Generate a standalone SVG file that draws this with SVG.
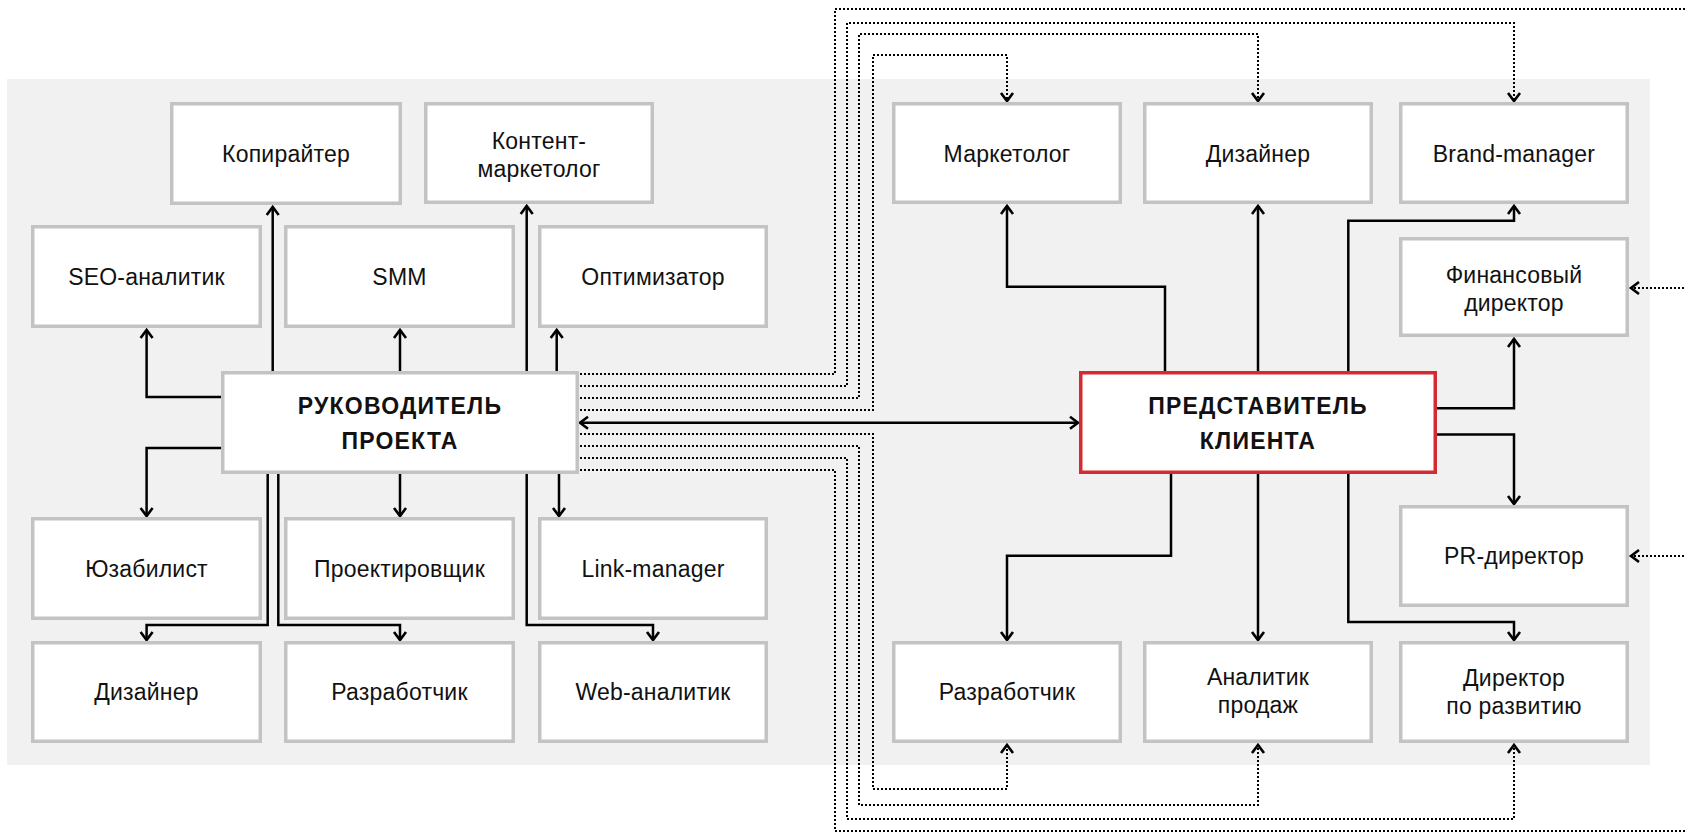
<svg xmlns="http://www.w3.org/2000/svg" width="1685" height="832" viewBox="0 0 1685 832">
<style>
.bx{fill:#fff;stroke:#c3c3c3;stroke-width:3.5}
.main{fill:#fff;stroke:#c3c3c3;stroke-width:3.5}
.cl{fill:#fff;stroke:#d42a32;stroke-width:3.5}
.t{font-family:"Liberation Sans",Arial,sans-serif;font-size:23px;fill:#111;text-anchor:middle;letter-spacing:0.2px}
.tb{font-family:"Liberation Sans",Arial,sans-serif;font-size:23px;font-weight:bold;fill:#111;text-anchor:middle;letter-spacing:1.2px}
.c{fill:none;stroke:#000;stroke-width:2.5}
.d{fill:none;stroke:#000;stroke-width:2;stroke-dasharray:2 2}
</style>
<defs>
<marker id="ah" viewBox="-10 -10 20 20" markerWidth="20" markerHeight="20" refX="0" refY="0" orient="auto-start-reverse" markerUnits="userSpaceOnUse">
<path d="M-8,-6 L0,0 L-8,6" fill="none" stroke="#000" stroke-width="2.6"/>
</marker>
</defs>
<rect x="7" y="79" width="1643" height="686" fill="#f1f1f1"/>
<g id="connectors">
<path class="c" d="M221,397 H146.6 V330" marker-end="url(#ah)"/>
<path class="c" d="M221,448 H146.6 V516" marker-end="url(#ah)"/>
<path class="c" d="M272.7,371 V207" marker-end="url(#ah)"/>
<path class="c" d="M400,371 V330" marker-end="url(#ah)"/>
<path class="c" d="M526.7,371 V206" marker-end="url(#ah)"/>
<path class="c" d="M556.7,371 V330" marker-end="url(#ah)"/>
<path class="c" d="M267.7,474 V625 H146.6 V640" marker-end="url(#ah)"/>
<path class="c" d="M278.3,474 V625 H400 V640" marker-end="url(#ah)"/>
<path class="c" d="M400,474 V516" marker-end="url(#ah)"/>
<path class="c" d="M526.7,474 V625 H653 V640" marker-end="url(#ah)"/>
<path class="c" d="M559,474 V516" marker-end="url(#ah)"/>
<path class="c" d="M580,422.7 H1078" marker-start="url(#ah)" marker-end="url(#ah)"/>
<path class="c" d="M1165,371 V286.7 H1007 V206" marker-end="url(#ah)"/>
<path class="c" d="M1258,371 V206" marker-end="url(#ah)"/>
<path class="c" d="M1348.3,371 V220.7 H1514 V206" marker-end="url(#ah)"/>
<path class="c" d="M1437,408.3 H1514 V339" marker-end="url(#ah)"/>
<path class="c" d="M1437,434.5 H1514 V504" marker-end="url(#ah)"/>
<path class="c" d="M1171,474 V555.7 H1007 V640" marker-end="url(#ah)"/>
<path class="c" d="M1258,474 V640" marker-end="url(#ah)"/>
<path class="c" d="M1348.3,474 V622 H1514 V640" marker-end="url(#ah)"/>
<path class="d" d="M580,374 H835 V9 H1700"/>
<path class="d" d="M1700,288 H1631" marker-end="url(#ah)"/>
<path class="d" d="M580,386 H847 V23 H1514 V101" marker-end="url(#ah)"/>
<path class="d" d="M580,398 H859 V34 H1258 V101" marker-end="url(#ah)"/>
<path class="d" d="M580,410 H873 V55 H1007 V101" marker-end="url(#ah)"/>
<path class="d" d="M580,434 H873 V789 H1007 V745" marker-end="url(#ah)"/>
<path class="d" d="M580,446 H859 V805 H1258 V745" marker-end="url(#ah)"/>
<path class="d" d="M580,458 H847 V819 H1514 V745" marker-end="url(#ah)"/>
<path class="d" d="M580,470 H835 V831 H1700"/>
<path class="d" d="M1700,556 H1631" marker-end="url(#ah)"/>
</g>
<g id="n-copywriter"><rect class="bx" x="171.75" y="103.75" width="228.5" height="99.5"/><text class="t" x="286" y="161.7">Копирайтер</text></g>
<g id="n-content"><rect class="bx" x="425.75" y="103.75" width="226.5" height="98.5"/><text class="t" x="539" y="149.3">Контент-</text><text class="t" x="539" y="176.5">маркетолог</text></g>
<g id="n-seo"><rect class="bx" x="32.75" y="226.75" width="227.5" height="99.5"/><text class="t" x="146.5" y="284.5">SEO-аналитик</text></g>
<g id="n-smm"><rect class="bx" x="285.75" y="226.75" width="227.5" height="99.5"/><text class="t" x="399.5" y="284.5">SMM</text></g>
<g id="n-optimizer"><rect class="bx" x="539.75" y="226.75" width="226.5" height="99.5"/><text class="t" x="653" y="284.5">Оптимизатор</text></g>
<g id="n-pm"><rect class="main" x="222.75" y="372.75" width="354.5" height="99.5"/><text class="tb" x="400" y="414">РУКОВОДИТЕЛЬ</text><text class="tb" x="400" y="449.3">ПРОЕКТА</text></g>
<g id="n-usability"><rect class="bx" x="32.75" y="518.75" width="227.5" height="99.5"/><text class="t" x="146.5" y="576.5">Юзабилист</text></g>
<g id="n-projector"><rect class="bx" x="285.75" y="518.75" width="227.5" height="99.5"/><text class="t" x="399.5" y="576.5">Проектировщик</text></g>
<g id="n-link"><rect class="bx" x="539.75" y="518.75" width="226.5" height="99.5"/><text class="t" x="653" y="576.5">Link-manager</text></g>
<g id="n-designer-l"><rect class="bx" x="32.75" y="642.75" width="227.5" height="98.5"/><text class="t" x="146.5" y="700">Дизайнер</text></g>
<g id="n-dev-l"><rect class="bx" x="285.75" y="642.75" width="227.5" height="98.5"/><text class="t" x="399.5" y="700">Разработчик</text></g>
<g id="n-web"><rect class="bx" x="539.75" y="642.75" width="226.5" height="98.5"/><text class="t" x="653" y="700">Web-аналитик</text></g>
<g id="n-marketer"><rect class="bx" x="893.75" y="103.75" width="226.5" height="98.5"/><text class="t" x="1007" y="161.7">Маркетолог</text></g>
<g id="n-designer-r"><rect class="bx" x="1144.75" y="103.75" width="226.5" height="98.5"/><text class="t" x="1258" y="161.7">Дизайнер</text></g>
<g id="n-brand"><rect class="bx" x="1400.75" y="103.75" width="226.5" height="98.5"/><text class="t" x="1514" y="161.7">Brand-manager</text></g>
<g id="n-finance"><rect class="bx" x="1400.75" y="238.75" width="226.5" height="96.5"/><text class="t" x="1514" y="283.3">Финансовый</text><text class="t" x="1514" y="311">директор</text></g>
<g id="n-client"><rect class="cl" x="1080.75" y="372.75" width="354.5" height="99.5"/><text class="tb" x="1258" y="413.5">ПРЕДСТАВИТЕЛЬ</text><text class="tb" x="1258" y="448.5">КЛИЕНТА</text></g>
<g id="n-pr"><rect class="bx" x="1400.75" y="506.75" width="226.5" height="98.5"/><text class="t" x="1514" y="563.5">PR-директор</text></g>
<g id="n-dev-r"><rect class="bx" x="893.75" y="642.75" width="226.5" height="98.5"/><text class="t" x="1007" y="700">Разработчик</text></g>
<g id="n-sales"><rect class="bx" x="1144.75" y="642.75" width="226.5" height="98.5"/><text class="t" x="1258" y="685">Аналитик</text><text class="t" x="1258" y="713">продаж</text></g>
<g id="n-director"><rect class="bx" x="1400.75" y="642.75" width="226.5" height="98.5"/><text class="t" x="1514" y="686">Директор</text><text class="t" x="1514" y="714">по развитию</text></g>
</svg>
